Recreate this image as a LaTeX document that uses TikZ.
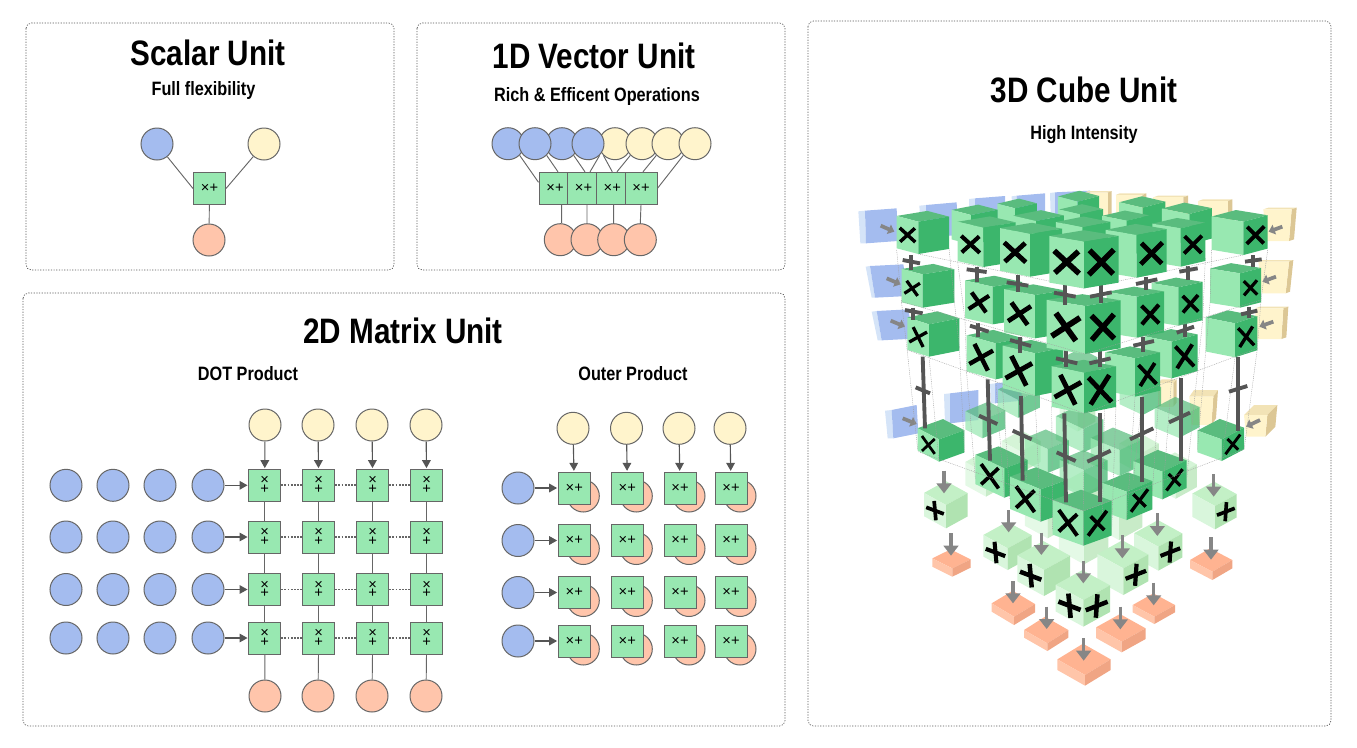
\documentclass[tikz,border=0pt]{standalone}
\usepackage{fontspec}
\setmainfont{Liberation Sans}
\newfontfamily\ttlfont[FakeStretch=0.84]{Liberation Sans Bold}
\usetikzlibrary{arrows.meta,calc}
\definecolor{cblue}{HTML}{A4BCEF}
\definecolor{cyel}{HTML}{FFF4CC}
\definecolor{cora}{HTML}{FFC5AB}
\definecolor{cgrn}{HTML}{98E8B1}
\definecolor{cline}{HTML}{666666}
\definecolor{cdark}{HTML}{555555}
\definecolor{gT}{HTML}{5ABC7E}
\definecolor{gL}{HTML}{98E8B1}
\definecolor{gR}{HTML}{3CB66C}
\definecolor{pT}{HTML}{C3F0C6}
\definecolor{pL}{HTML}{D9F6DC}
\definecolor{pR}{HTML}{B0E3B1}
\definecolor{oT}{HTML}{FFB391}
\definecolor{oL}{HTML}{FFC5A9}
\definecolor{oR}{HTML}{F0A584}
\definecolor{oTy}{HTML}{F2E3B6}
\definecolor{oRy}{HTML}{DCC795}
\definecolor{bSt}{HTML}{D5E4F8}
\tikzset{
  panel/.style={draw=cdark,line width=.5pt,dash pattern=on .9pt off 1.1pt,rounded corners=4pt},
  ttl/.style={font=\ttlfont\fontsize{26.5}{30}\selectfont,inner sep=0pt},
  subttl/.style={font=\ttlfont\fontsize{14.5}{17}\selectfont,inner sep=0pt},
  circ/.style={circle,draw=cline,line width=.75pt,minimum size=24pt,inner sep=0pt},
  bc/.style={circ,fill=cblue},
  yc/.style={circ,fill=cyel},
  oc/.style={circ,fill=cora},
  opbox/.style={rectangle,draw=cline,line width=.75pt,fill=cgrn,minimum size=24pt,inner sep=0pt,
     font=\fontsize{11}{11}\selectfont},
  stackbox/.style={opbox,align=center,font=\fontsize{11}{6.6}\selectfont},
  lnk/.style={draw=cline,line width=.7pt},
  arw/.style={draw=cdark,line width=.85pt,-{Triangle[length=6pt,width=6.5pt]},shorten >=.5pt},
  dotlnk/.style={draw=cline,line width=1.4pt,dash pattern=on 1.4pt off 1pt},
  bigarw/.style={draw=gray!95,line width=2.5pt,-{Triangle[length=7.5pt,width=11pt]}},
  smallarw/.style={draw=gray!95,line width=2.8pt,-{Triangle[length=4.5pt,width=7.5pt]}},
  wire/.style={draw=gray!75,line width=.3pt,dash pattern=on .7pt off .7pt},
  rodline/.style={draw=cdark,line width=2.9pt},
}
% a cube: front corner x,y, left lx,ly, right rx,ry, height h, opacity
\newcommand\cubeshape[8]{%
  \fill[fill=\cT,fill opacity=#8] (#1,#2)--({#1-#3},{#2-#4})--({#1-#3+#5},{#2-#4-#6})--({#1+#5},{#2-#6})--cycle;
  \fill[fill=\cL,fill opacity=#8] (#1,#2)--({#1-#3},{#2-#4})--({#1-#3},{#2-#4+#7})--(#1,{#2+#7})--cycle;
  \fill[fill=\cR,fill opacity=#8] (#1,#2)--({#1+#5},{#2-#6})--({#1+#5},{#2-#6+#7})--(#1,{#2+#7})--cycle;
}
% a two stroke mark about (cx,cy)
\newcommand\markstrokes[8]{% cx cy ax ay bx by scale lw
  \draw[black,line width=#8*#7] ({#1-#3*#7},{#2-#4*#7})--({#1+#3*#7},{#2+#4*#7});
  \draw[black,line width=#8*#7] ({#1-#5*#7},{#2-#6*#7})--({#1+#5*#7},{#2+#6*#7});
}
\newcommand\drawlayer{%
  \foreach \i in {3,2,1,0}{\foreach \j in {3,2,1,0}{
    \pgfmathsetmacro\xo{\XI[\i]+\XJ[\j]-\XI[0]}
    \pgfmathsetmacro\yo{\YI[\i]+\YJ[\j]-\YI[0]+\dy}
    \pgfmathsetmacro\lx{\LI[\i]/\LI[0]*\LJ[\j]}
    \pgfmathsetmacro\rx{\RI[\i]/\RI[0]*\RJ[\j]}
    \pgfmathsetmacro\hh{\HI[\i]/\HI[0]*\HJ[\j]}
    \pgfmathsetmacro\ly{\rt*\lx*(1+\grow*\i)}
    \pgfmathsetmacro\ry{\rt*\rx*(1+\grow*\j)}
    \pgfmathsetmacro\op{(\i>0 && \j>0) ? \inop : 1}
    \pgfmathtruncatemacro\skipit{(\i>0 && \j>0 && \inner==0) ? 1 : 0}
    \ifnum\skipit=0
      \cubeshape{\xo}{\yo}{\lx}{\ly}{\rx}{\ry}{\hh}{\op}
    \fi
    \ifnum\j=0
      \pgfmathsetmacro\s{\lx/100}
      \pgfmathsetmacro\cx{\xo-\lx/2}
      \pgfmathsetmacro\cy{\yo-\ly/2+\hh/2}
      \markstrokes{\cx}{\cy}{\LAx}{\LAy}{\LBx}{\LBy}{\s}{\mlw pt}
    \fi
    \ifnum\i=0
      \pgfmathsetmacro\s{\rx/100}
      \pgfmathsetmacro\cx{\xo+\rx/2}
      \pgfmathsetmacro\cy{\yo-\ry/2+\hh/2}
      \markstrokes{\cx}{\cy}{\RAx}{\RAy}{\RBx}{\RBy}{\s}{\mlw pt}
    \fi
  }}
}
\newcommand\rod[8]{%
  \draw[rodline] (#1,#2)--(#3,#4);
  \draw[rodline] (#5,#6)--(#7,#8);
}
% blue block: x y w rise h lean strip
\newcommand\bblock[7]{%
  \fill[fill=bSt] ({#1-#7},{#2+2})--(#1,#2)--({#1+#6},{#2+#5})--({#1+#6-#7+3},{#2+#5})--cycle;
  \fill[fill=cblue] (#1,#2)--({#1+#3},{#2-#4})--({#1+#3+#6},{#2-#4+#5})--({#1+#6},{#2+#5})--cycle;
}
% yellow block: x y w h lean strip rise
\newcommand\yblock[7]{%
  \fill[fill=oTy] (#1,#2)--({#1+#3},#2)--({#1+#3+#6},{#2-#7})--({#1+#6},{#2-#7})--cycle;
  \fill[fill=oRy] ({#1+#3},#2)--({#1+#3+#6},{#2-#7})--({#1+#3+#6-#5},{#2-#7+#4})--({#1+#3-#5},{#2+#4})--cycle;
  \fill[fill=cyel] (#1,#2)--({#1+#3},#2)--({#1+#3-#5},{#2+#4})--({#1+#5},{#2+#4})--cycle;
}
\newcommand\wires[1]{%
  \foreach \a/\b/\c/\d in {#1}{
    \coordinate (wa) at (\a,\b); \coordinate (wb) at (\c,\d);
    \draw[wire] (wa)--(wb);
  }
}
\begin{document}
\begin{tikzpicture}[x=.75pt,y=-.75pt]
\useasboundingbox (0,0) rectangle (1357,747);
% panels
\draw[panel] (26,23) rectangle (394,270);
\draw[panel] (417,23) rectangle (785,270);
\draw[panel] (23,293) rectangle (785,726);
\draw[panel] (808,21) rectangle (1331,726);
% titles
\node[ttl] (t1) at (208,53) {Scalar Unit};
\node[subttl] (s1) at (203.5,90) {Full flexibility};
\node[ttl] (t2) at (594,56) {1D Vector Unit};
\node[subttl] (s2) at (597,96) {Rich \& Efficent Operations};
\node[ttl] (t3) at (403,331) {2D Matrix Unit};
\node[subttl] (s3) at (248,374) {DOT Product};
\node[subttl] (s4) at (633,374) {Outer Product};
\node[ttl] (t4) at (1084,90) {3D Cube Unit};
\node[subttl] (s5) at (1084,135) {High Intensity};
% scalar
\node[bc] (sb) at (157,144) {};
\node[yc] (sy) at (264,144) {};
\node[opbox] (so) at (209.5,188.5) {×+};
\node[oc] (sr) at (209,240) {};
\draw[lnk] (sb)--(so.west);
\draw[lnk] (sy)--(so.east);
\draw[lnk] (so)--(sr);
% vector
\node[bc] (vb1) at (508,143.7) {};
\node[bc] (vb3) at (562,143.7) {};
\node[yc] (vy1) at (615,143.7) {};
\node[yc] (vy2) at (642,143.7) {};
\node[yc] (vy3) at (668,143.7) {};
\node[yc] (vy4) at (695,143.7) {};
\node[bc] (vb2) at (535,143.7) {};
\node[bc] (vb4) at (588,143.7) {};
\node[oc] (vr1) at (560.3,239.7) {};
\node[oc] (vr2) at (587,239.7) {};
\node[oc] (vr3) at (613.7,239.7) {};
\node[oc] (vr4) at (640.3,239.7) {};
\node[opbox] (v1) at (555,188.3) {×+};
\node[opbox] (v2) at (583.5,188.3) {×+};
\node[opbox] (v3) at (612.3,188.3) {×+};
\node[opbox] (v4) at (641,188.3) {×+};
\draw[lnk] (vb1.-45)--([yshift=4.5pt]v1.west);
\draw[lnk] (vb2.-45)--([xshift=2.25pt]v1.north);
\draw[lnk] (vb3.-45)--([xshift=1.1pt]v2.north);
\draw[lnk] (vb4.-45)--([xshift=4.9pt]v2.north);
\draw[lnk] (vy1.-135)--(v3.north);
\draw[lnk] (vy2.-135)--([xshift=3.5pt]v3.north);
\draw[lnk] (vy3.-135)--([xshift=1.5pt]v4.north);
\draw[lnk] (vy4.-135)--(v4.east);
\draw[lnk] ([xshift=5pt]v1.south)--([xshift=1pt]vr1.north);
\draw[lnk] ([xshift=2.6pt]v2.south)--(vr2.north);
\draw[lnk] ([xshift=1pt]v3.south)--(vr3.north);
\draw[lnk] (v4.south)--(vr4.north);
% dot product
\foreach \r/\y in {1/485.3,2/537,3/589.5,4/638}{
  \foreach \c/\x in {1/66,2/113,3/160,4/208}{\node[bc] (db\r\c) at (\x,\y) {};}
  \foreach \c/\x in {1/264.7,2/318.7,3/372.7,4/426.7}{\node[stackbox] (d\r\c) at (\x,\y) {×\\+};}
  \draw[arw] (db\r4)--(d\r1);
  \draw[dotlnk] (d\r1)--(d\r2);
  \draw[dotlnk] (d\r2)--(d\r3);
  \draw[dotlnk] (d\r3)--(d\r4);
}
\foreach \c/\x/\xx in {1/265/265,2/318/318,3/372/372,4/426/426}{
  \node[yc] (dy\c) at (\x,425) {};
  \node[oc] (do\c) at (\xx,696) {};
  \draw[arw] (dy\c)--(d1\c);
  \draw[lnk] (d1\c)--(d2\c);
  \draw[lnk] (d2\c)--(d3\c);
  \draw[lnk] (d3\c)--(d4\c);
  \draw[lnk] (d4\c)--(do\c);
}
% outer product
\foreach \c/\x in {1/573,2/626.5,3/679,4/730}{\node[yc] (oy\c) at (\x,428.3) {};}
\foreach \r/\y in {1/488,2/540.5,3/592.5,4/641}{
  \node[bc] (ob\r) at (518,\y) {};
  \foreach \c/\x in {1/574.3,2/627.3,3/680,4/731}{
    \node[oc] (oo\r\c) at (\x+9,\y+8) {};
    \node[opbox] (o\r\c) at (\x,\y) {×+};
  }
  \draw[arw] (ob\r)--(o\r1);
}
\foreach \c in {1,2,3,4}{\draw[arw] (oy\c)--(o1\c);}
% ---------------- 3D cube
\begin{scope}[shift={(850,180)},x=.25pt,y=-.25pt]
% orange plates
\def\cT{oT}\def\cL{oL}\def\cR{oR}
\cubeshape{307}{1165}{60}{30}{55}{27}{25}{1}
\cubeshape{492}{1310}{67}{40}{63}{38}{25}{1}
\cubeshape{592}{1390}{70}{40}{63}{40}{23}{1}
\cubeshape{705}{1485}{83}{47}{77}{47}{32}{1}
\cubeshape{815}{1385}{77}{43}{72}{40}{32}{1}
\cubeshape{913}{1310}{65}{35}{62}{35}{22}{1}
\cubeshape{1087}{1175}{67}{35}{60}{35}{25}{1}
\foreach \a/\b/\c in {303/1060/1127,489/1203/1270,590/1280/1347,701/1374/1442,811/1280/1348,911/1208/1276,1083/1071/1139}{
  \coordinate (oa) at (\a,\b); \coordinate (ob) at (\a,\c);
  \draw[bigarw] (oa)--(ob);
}
% blocks behind
\bblock{45}{92}{95}{7}{98}{3}{20}
\bblock{228}{75}{92}{8}{98}{3}{20}
\bblock{375}{55}{90}{7}{98}{0}{18}
\bblock{500}{47}{85}{7}{98}{0}{15}
\bblock{615}{37}{105}{5}{98}{0}{15}
\bblock{60}{258}{100}{5}{95}{15}{13}
\bblock{80}{393}{95}{5}{88}{15}{15}
\bblock{125}{690}{75}{15}{85}{5}{20}
\bblock{300}{640}{85}{10}{90}{0}{18}
\bblock{435}{610}{80}{8}{60}{0}{15}
\yblock{1240}{88}{85}{95}{8}{15}{5}
\yblock{1225}{245}{92}{95}{10}{13}{5}
\yblock{1215}{385}{85}{92}{6}{15}{5}
\yblock{1182}{705}{70}{65}{6}{30}{30}
\yblock{703}{38}{70}{98}{0}{12}{5}
\yblock{797}{45}{80}{90}{0}{12}{5}
\yblock{910}{52}{90}{90}{0}{14}{5}
\yblock{1045}{63}{88}{90}{0}{14}{5}
\yblock{1018}{650}{72}{85}{6}{14}{20}
\yblock{925}{610}{45}{70}{0}{10}{12}
\foreach \ax/\ay/\bx/\by in {92/137/133/155,110/295/152/313,122/422/165/440,158/715/200/732,1297/140/1256/155,1278/290/1237/305,1270/425/1228/440,1230/720/1188/740}{
  \coordinate (sa) at (\ax,\ay); \coordinate (sb) at (\bx,\by);
  \draw[smallarw] (sa)--(sb);
}
% plus layer
\def\cT{pT}\def\cL{pL}\def\cR{pR}
\def\XI{{700,582,473,288}}\def\YI{{600,510,445,315}}\def\LI{{83,80,73,66}}\def\RI{{80,78,72,65}}\def\HI{{80,78,65,70}}
\def\XJ{{700,820,925,1095}}\def\YJ{{600,505,440,318}}\def\LJ{{83,78,73,68}}\def\RJ{{80,75,72,65}}\def\HJ{{80,80,72,70}}
\def\rt{.55}\def\grow{0}\def\inop{.7}\def\inner{1}\def\dy{660}\def\mlw{4.2}
\def\LAx{4}\def\LAy{44}\def\LBx{40}\def\LBy{15}
\def\RAx{-3}\def\RAy{44}\def\RBx{41}\def\RBy{-16}
\drawlayer
\foreach \a/\b/\c in {282/872/940,476/990/1057,574/1058/1125,700/1142/1210,817/1066/1135,922/1000/1068,1091/882/950}{
  \coordinate (pa) at (\a,\b); \coordinate (pb) at (\a,\c);
  \draw[bigarw] (pa)--(pb);
}
% layer 4
\def\cT{gT}\def\cL{gL}\def\cR{gR}
\def\XI{{700,572,463,267}}\def\YI{{333,268,205,118}}\def\LI{{92,92,87,64}}\def\RI{{85,78,70,76}}\def\HI{{104,97,88,67}}
\def\XJ{{700,830,937,1115}}\def\YJ{{333,275,215,118}}\def\LJ{{92,73,87,73}}\def\RJ{{85,77,73,67}}\def\HJ{{104,85,83,65}}
\def\rt{.36}\def\grow{.15}\def\inop{.72}\def\inner{1}\def\dy{660}\def\mlw{3.2}
\def\LAx{30}\def\LAy{42}\def\LBx{30}\def\LBy{-28}
\def\RAx{24}\def\RAy{24}\def\RBx{33}\def\RBy{-44}
\drawlayer
\draw[wire] (205,815)--(700,993)--(1182,808);
\wires{172/515/203/810,237/530/267/845,328/500/343/815,350/580/376/895,437/598/463/953,500/570/530/900,458/630/480/960,555/648/572/1025,640/615/650/940,605/680/608/1050,702/700/700/1097,798/675/785/1050,765/620/757/1000,855/650/830/1020,930/600/907/935,885/575/850/900,965/595/937/958,1043/565/1010/895,1067/515/1042/810,1155/532/1115/843,1222/505/1182/810}
% long rods
\rod{218}{530}{225}{745}{197}{622}{240}{640}
\rod{413}{598}{420}{842}{387}{707}{442}{732}
\rod{513}{648}{518}{902}{488}{752}{545}{778}
\rod{643}{700}{648}{967}{620}{817}{677}{843}
\rod{750}{700}{750}{967}{712}{845}{782}{812}
\rod{875}{650}{875}{907}{840}{778}{910}{745}
\rod{993}{595}{993}{842}{957}{727}{1020}{698}
\rod{1165}{530}{1165}{752}{1137}{635}{1192}{618}
% layer 3
\def\XI{{702,555,437,237}}\def\YI{{578,520,490,433}}\def\LI{{97,97,87,65}}\def\RI{{96,85,80,91}}\def\HI{{122,128,108,97}}
\def\XJ{{702,855,965,1155}}\def\YJ{{578,535,485,430}}\def\LJ{{97,90,80,88}}\def\RJ{{96,75,78,67}}\def\HJ{{122,115,110,102}}
\def\rt{.2}\def\grow{.2}\def\inop{1}\def\inner{0}\def\dy{0}\def\mlw{3.8}
\def\LAx{23}\def\LAy{46}\def\LBx{41}\def\LBy{-23}
\def\RAx{36}\def\RAy{38}\def\RBx{29}\def\RBy{-46}
\drawlayer
\draw[wire] (172,510)--(702,700)--(1222,505);
\wires{155/370/172/515,313/365/328/500,345/420/350/580,1080/370/1067/515,1233/360/1222/505,1058/420/1043/565}
\rod{190}{383}{190}{420}{165}{390}{218}{400}
\rod{385}{430}{385}{470}{360}{437}{416}{455}
\rod{510}{470}{510}{520}{480}{480}{543}{498}
\rod{648}{510}{648}{560}{618}{535}{682}{550}
\rod{750}{510}{750}{560}{718}{550}{782}{535}
\rod{880}{470}{880}{515}{850}{497}{912}{483}
\rod{1005}{425}{1005}{470}{980}{458}{1032}{440}
\rod{1197}{380}{1197}{415}{1173}{403}{1222}{392}
% layer 2
\def\XI{{705,555,428,218}}\def\YI{{378,345,320,283}}\def\LI{{115,93,83,63}}\def\RI{{107,88,88,95}}\def\HI{{144,130,113,100}}
\def\XJ{{705,860,985,1170}}\def\YJ{{378,350,322,280}}\def\LJ{{115,90,80,90}}\def\RJ{{107,82,73,63}}\def\HJ{{144,123,115,103}}
\def\rt{.16}\def\grow{.2}\def\inop{1}\def\inner{0}\def\dy{0}\def\mlw{3.8}
\def\LAx{26}\def\LAy{36}\def\LBx{37}\def\LBy{-24}
\def\RAx{32}\def\RAy{32}\def\RBx{31}\def\RBy{-36}
\drawlayer
\draw[wire] (155,365)--(705,522)--(1233,360);
\wires{140/210/155/370,297/205/313/365,323/245/345/420,1085/210/1080/370,1253/210/1233/360,1066/235/1058/420}
\rod{183}{225}{183}{270}{158}{240}{210}{250}
\rod{380}{260}{380}{305}{350}{268}{410}{276}
\rod{503}{285}{503}{335}{470}{307}{535}{317}
\rod{645}{315}{645}{375}{612}{338}{677}{350}
\rod{752}{315}{752}{370}{720}{350}{785}{337}
\rod{888}{290}{888}{330}{858}{312}{922}{298}
\rod{1014}{258}{1014}{300}{988}{275}{1043}{265}
\rod{1210}{225}{1210}{262}{1185}{245}{1235}{238}
\draw[wire] (205,222)--(702,325)--(1180,225);
% layer 1
\def\XI{{702,540,400,205}}\def\YI{{185,162,143,125}}\def\LI{{104,90,77,65}}\def\RI{{104,96,97,92}}\def\HI{{140,128,118,97}}
\def\XJ{{702,860,992,1180}}\def\YJ{{185,165,145,125}}\def\LJ{{104,93,85,95}}\def\RJ{{104,90,74,73}}\def\HJ{{140,128,115,100}}
\def\rt{.165}\def\grow{.2}\def\inop{1}\def\inner{1}\def\dy{0}\def\mlw{4}
\def\LAx{36}\def\LAy{33}\def\LBx{34}\def\LBy{-31}
\def\RAx{34}\def\RAy{34}\def\RBx{36}\def\RBy{-36}
\drawlayer
\end{scope}
\end{tikzpicture}
\end{document}
